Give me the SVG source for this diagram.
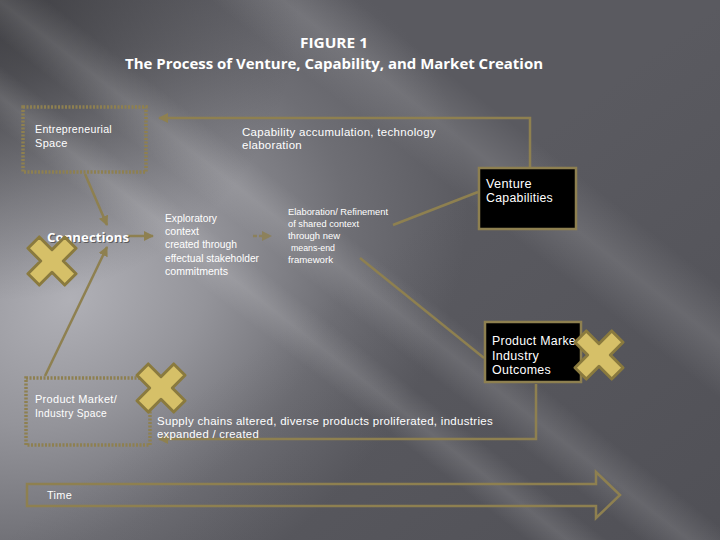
<svg xmlns="http://www.w3.org/2000/svg" width="720" height="540" viewBox="0 0 720 540">
<defs>
  <radialGradient id="glow" cx="70" cy="300" r="430" gradientUnits="userSpaceOnUse" gradientTransform="translate(70 300) rotate(-35) scale(1 0.75) translate(-70 -300)">
    <stop offset="0" stop-color="#b0b0b6"/>
    <stop offset="0.35" stop-color="#94949a"/>
    <stop offset="0.7" stop-color="#6e6e74"/>
    <stop offset="1" stop-color="#5a5a60"/>
  </radialGradient>
  <radialGradient id="corner" cx="0" cy="0" r="300" gradientUnits="userSpaceOnUse">
    <stop offset="0" stop-color="#3a3a3e" stop-opacity="0.85"/>
    <stop offset="1" stop-color="#3a3a3e" stop-opacity="0"/>
  </radialGradient>
  <linearGradient id="streak" x1="0" y1="0" x2="0" y2="1">
    <stop offset="0" stop-color="#ffffff" stop-opacity="0"/>
    <stop offset="0.5" stop-color="#ffffff" stop-opacity="0.12"/>
    <stop offset="1" stop-color="#ffffff" stop-opacity="0"/>
  </linearGradient>
  <linearGradient id="br" x1="0" y1="0" x2="1" y2="1">
    <stop offset="0.5" stop-color="#4a4a50" stop-opacity="0"/>
    <stop offset="1" stop-color="#4a4a50" stop-opacity="0.6"/>
  </linearGradient>
  <marker id="ah" viewBox="0 0 10 10" refX="9" refY="5" markerWidth="4" markerHeight="4" orient="auto">
    <path d="M0,0 L10,5 L0,10 z" fill="#8e8050"/>
  </marker>
  <g id="xmark">
    <polygon points="8,-26 8,-8 26,-8 26,8 8,8 8,26 -8,26 -8,8 -26,8 -26,-8 -8,-8 -8,-26" transform="rotate(45)" fill="#d6c068" stroke="#8a7a3e" stroke-width="3" stroke-linejoin="round"/>
  </g>
  <style>
    .ln{fill:none;stroke:#8e8050;stroke-width:2.5}
    .dot{fill:none;stroke:#8e8050;stroke-width:3.5;stroke-dasharray:2 1.5}
    .t{font-family:"Liberation Sans",Arial,sans-serif;fill:#ffffff}
    .s11{font-size:11px;letter-spacing:0.3px}
    .s12{font-size:12.5px;letter-spacing:0.3px}
    .s10{font-size:10px}
    .s9{font-size:9px}
    .title{font-family:"Open Sans","Liberation Sans",sans-serif;font-weight:bold;font-size:14px;fill:#ffffff}
  </style>
</defs>

<!-- background -->
<rect width="720" height="540" fill="#5a5a60"/>
<rect width="720" height="540" fill="url(#glow)"/>
<rect width="720" height="540" fill="url(#corner)"/>
<rect width="720" height="540" fill="url(#br)"/>
<g transform="rotate(38 360 270)">
  <rect x="-200" y="60" width="1200" height="90" fill="url(#streak)"/>
  <rect x="-200" y="250" width="1200" height="60" fill="url(#streak)"/>
  <rect x="-200" y="330" width="1200" height="50" fill="url(#streak)"/>
</g>

<!-- title -->
<g id="title">
  <text class="title" x="334" y="48" text-anchor="middle" textLength="68" lengthAdjust="spacingAndGlyphs">FIGURE 1</text>
  <text class="title" x="334" y="69" text-anchor="middle" textLength="418" lengthAdjust="spacingAndGlyphs">The Process of Venture, Capability, and Market Creation</text>
</g>

<!-- connectors -->
<g id="connectors">
  <polyline class="ln" points="530,167 530,118 159,118" marker-end="url(#ah)"/>
  <line class="ln" x1="85" y1="174" x2="107" y2="225" marker-end="url(#ah)"/>
  <line class="ln" x1="45" y1="376" x2="107" y2="247" marker-end="url(#ah)"/>
  <line class="ln" x1="127" y1="236" x2="153" y2="236" marker-end="url(#ah)"/>
  <line class="ln" x1="253" y1="236" x2="271" y2="236" stroke-dasharray="4 2" opacity="0.8" marker-end="url(#ah)"/>
  <line class="ln" x1="393" y1="225" x2="478" y2="192"/>
  <line class="ln" x1="360" y1="258" x2="484" y2="358"/>
  <polyline class="ln" points="536,384 536,439 159,439" marker-end="url(#ah)"/>
</g>

<!-- Entrepreneurial Space -->
<g id="entrepreneurial-space">
  <rect class="dot" x="23" y="107" width="123" height="65"/>
  <text class="t s11" x="35" y="133" textLength="77" lengthAdjust="spacingAndGlyphs">Entrepreneurial</text>
  <text class="t s11" x="35" y="147">Space</text>
</g>

<g id="capability-label">
  <text class="t s11" x="242" y="136" textLength="194" lengthAdjust="spacingAndGlyphs">Capability accumulation, technology</text>
  <text class="t s11" x="242" y="149" textLength="60" lengthAdjust="spacingAndGlyphs">elaboration</text>
</g>

<!-- Venture Capabilities -->
<g id="venture-capabilities">
  <rect x="479" y="168" width="97" height="61" fill="#000000" stroke="#8e8050" stroke-width="2.5"/>
  <text class="t s12" x="486" y="188" textLength="46" lengthAdjust="spacingAndGlyphs">Venture</text>
  <text class="t s12" x="486" y="202" textLength="67" lengthAdjust="spacingAndGlyphs">Capabilities</text>
</g>

<!-- Connections -->
<g id="connections">
  <text x="48" y="243" font-family="'Open Sans','Liberation Sans',sans-serif" font-weight="bold" font-size="13" fill="#333333" opacity="0.6" textLength="82" lengthAdjust="spacingAndGlyphs">Connections</text>
  <text x="47" y="242" font-family="'Open Sans','Liberation Sans',sans-serif" font-weight="bold" font-size="13" fill="#ffffff" textLength="82" lengthAdjust="spacingAndGlyphs">Connections</text>
  <use href="#xmark" x="52" y="261"/>
</g>

<!-- Exploratory context -->
<g id="exploratory">
  <text class="t s10" x="165" y="222" textLength="52" lengthAdjust="spacingAndGlyphs">Exploratory</text>
  <text class="t s10" x="165" y="235" textLength="34" lengthAdjust="spacingAndGlyphs">context</text>
  <text class="t s10" x="165" y="248" textLength="72" lengthAdjust="spacingAndGlyphs">created through</text>
  <text class="t s10" x="165" y="262" textLength="94" lengthAdjust="spacingAndGlyphs">effectual stakeholder</text>
  <text class="t s10" x="165" y="275" textLength="63" lengthAdjust="spacingAndGlyphs">commitments</text>
</g>

<!-- Elaboration -->
<g id="elaboration">
  <text class="t s9" x="288" y="215" textLength="100" lengthAdjust="spacingAndGlyphs">Elaboration/ Refinement</text>
  <text class="t s9" x="288" y="227" textLength="71" lengthAdjust="spacingAndGlyphs">of shared context</text>
  <text class="t s9" x="288" y="239" textLength="52" lengthAdjust="spacingAndGlyphs">through new</text>
  <text class="t s9" x="291" y="251" textLength="44" lengthAdjust="spacingAndGlyphs">means-end</text>
  <text class="t s9" x="288" y="263" textLength="45" lengthAdjust="spacingAndGlyphs">framework</text>
</g>

<!-- Product Market Industry Outcomes -->
<g id="pm-outcomes">
  <rect x="485" y="322" width="96" height="60" fill="#000000" stroke="#8e8050" stroke-width="2.5"/>
  <text class="t s12" x="492" y="345" textLength="84" lengthAdjust="spacingAndGlyphs">Product Marke</text>
  <text class="t s12" x="492" y="360" textLength="47" lengthAdjust="spacingAndGlyphs">Industry</text>
  <text class="t s12" x="492" y="374" textLength="59" lengthAdjust="spacingAndGlyphs">Outcomes</text>
  <use href="#xmark" x="599" y="355"/>
</g>

<!-- Product Market / Industry Space -->
<g id="pm-space">
  <rect class="dot" x="26" y="378" width="124" height="67"/>
  <text class="t s11" x="35" y="403" textLength="82" lengthAdjust="spacingAndGlyphs">Product Market/</text>
  <text class="t s11" x="35" y="417" textLength="72" lengthAdjust="spacingAndGlyphs">Industry Space</text>
  <use href="#xmark" x="161" y="388"/>
</g>

<g id="supply-label">
  <text class="t s11" x="157" y="425" textLength="336" lengthAdjust="spacingAndGlyphs">Supply chains altered, diverse products proliferated, industries</text>
  <text class="t s11" x="157" y="438" textLength="102" lengthAdjust="spacingAndGlyphs">expanded / created</text>
</g>

<!-- Time arrow -->
<g id="time">
  <polygon points="27,484 596,484 596,472 620,495 596,518 596,506 27,506" fill="none" stroke="#8e8050" stroke-width="2.5"/>
  <text class="t s11" x="47" y="499" textLength="25" lengthAdjust="spacingAndGlyphs">Time</text>
</g>
</svg>
